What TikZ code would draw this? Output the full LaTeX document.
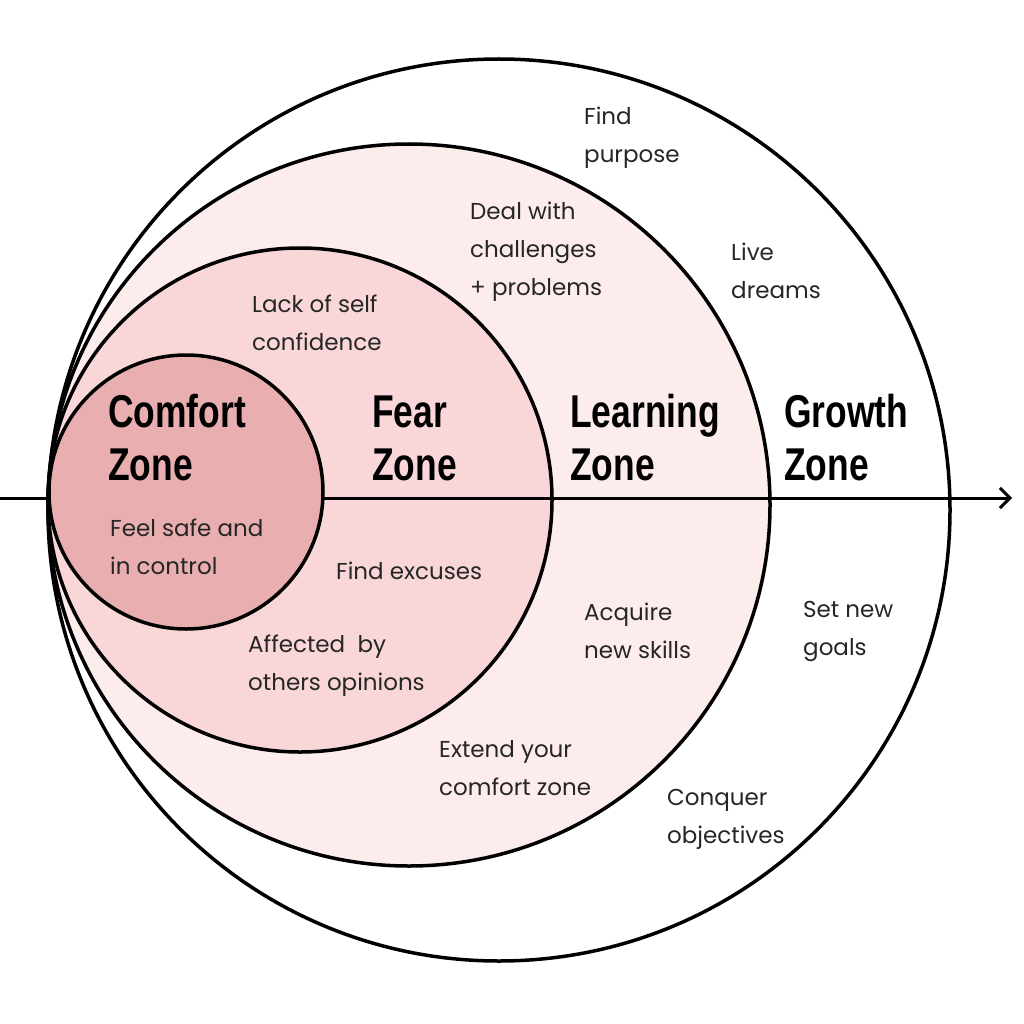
\documentclass[tikz,border=0pt]{standalone}
\usepackage{fontspec}
\setmainfont{Poppins}
\newfontfamily\titlefont[FakeStretch=0.77]{Liberation Sans}
\usetikzlibrary{arrows.meta}
\definecolor{cComf}{HTML}{E8AEB0}
\definecolor{cFear}{HTML}{F9D6D7}
\definecolor{cLearn}{HTML}{FDECEC}
\tikzset{
 ring/.style={draw=black,line width=3.5pt},
 lbl/.style={anchor=west,align=left,inner sep=0pt,font=\fontsize{23}{38}\selectfont,text=black!85},
 ttl/.style={anchor=west,align=left,inner sep=0pt,font=\titlefont\bfseries\fontsize{46}{53}\selectfont}
}
\begin{document}
\begin{tikzpicture}[x=1pt,y=-1pt]
\useasboundingbox (0,0) rectangle (1024,1024);
\fill[white] (0,0) rectangle (1024,1024);
\node[ring,circle,minimum size=902pt,inner sep=0pt,fill=white] (growth) at (499,510) {};
\node[ring,circle,minimum size=722pt,inner sep=0pt,fill=cLearn] (learn) at (409,505) {};
\node[ring,circle,minimum size=504pt,inner sep=0pt,fill=cFear] (fear) at (300,500) {};
\coordinate (s) at (0,498);
\coordinate (e) at (1012,498);
\draw[line width=3pt,-{Straight Barb[length=10pt,width=20pt,line width=3pt]}] (s) -- (e);
\node[ring,circle,minimum size=274pt,inner sep=0pt,fill=cComf] (comf) at (186,492) {};
\node[ttl] (t1) at (108,438) {Comfort\\Zone};
\node[ttl] (t2) at (372,438) {Fear\\Zone};
\node[ttl] (t3) at (570,438) {Learning\\Zone};
\node[ttl] (t4) at (784,438) {Growth\\Zone};
\node[lbl] (a) at (584,138) {Find\\purpose};
\node[lbl] (b) at (470,252) {Deal with\\challenges\\+ problems};
\node[lbl] (c) at (731,271) {Live\\dreams};
\node[lbl] (d) at (252,323) {Lack of self\\confidence};
\node[lbl] (f) at (110,547) {Feel safe and\\in control};
\node[lbl] (g) at (336,571) {Find excuses};
\node[lbl] (h) at (584,631) {Acquire\\new skills};
\node[lbl] (i) at (803,631) {Set new\\goals};
\node[lbl] (j) at (248,666) {Affected\ \ by\\others opinions};
\node[lbl] (k) at (439,768) {Extend your\\comfort zone};
\node[lbl] (l) at (667,819) {Conquer\\objectives};
\end{tikzpicture}
\end{document}
